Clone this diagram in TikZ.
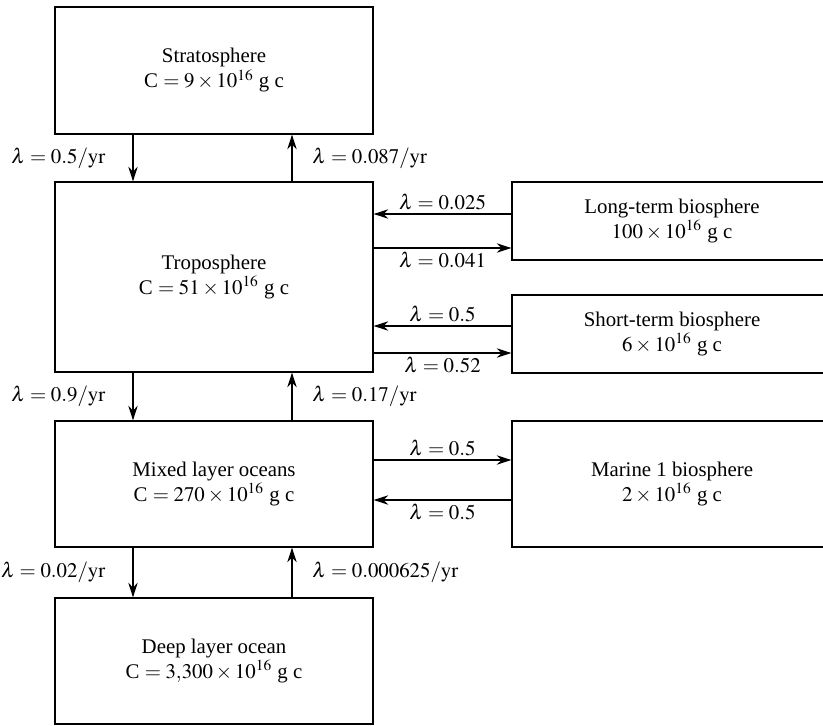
\documentclass[tikz,border=0pt]{standalone}
\usepackage{mathptmx}
\usepackage[no-math]{fontspec}
\setmainfont{Liberation Serif}
\usetikzlibrary{arrows.meta,positioning,calc}
\def\pxu{0.48pt}
\tikzset{%
   res/.style={
      draw,
      line width=.6pt,
      align=center,
      inner sep=0pt
   },
   fl/.style={
      -{Stealth[length=7pt,width=4.5pt]},
      line width=.6pt
   },
   rate/.style={
      inner sep=1.5pt
   },
}

\begin{document}
\begin{tikzpicture}[x=\pxu, y=-\pxu]
      \clip (0,0) rectangle (823,725);
      % reservoirs
      \node[res, minimum width=318*\pxu, minimum height=127*\pxu] (strat) at (214,70.5)
         {Stratosphere\\ C $=9\times10^{16}$ g c};
      \node[res, minimum width=318*\pxu, minimum height=190*\pxu] (tropo) at (214,277)
         {Troposphere\\ C $=51\times10^{16}$ g c};
      \node[res, minimum width=318*\pxu, minimum height=126*\pxu] (mixed) at (214,484)
         {Mixed layer oceans\\ C $=270\times10^{16}$ g c};
      \node[res, minimum width=318*\pxu, minimum height=126*\pxu] (deep) at (214,661)
         {Deep layer ocean\\ C $=3{,}300\times10^{16}$ g c};
      \node[res, minimum width=320*\pxu, minimum height=78*\pxu] (ltb) at (672,221)
         {Long-term biosphere\\ $100\times10^{16}$ g c};
      \node[res, minimum width=320*\pxu, minimum height=78*\pxu] (stb) at (672,334)
         {Short-term biosphere\\ $6\times10^{16}$ g c};
      \node[res, minimum width=320*\pxu, minimum height=126*\pxu] (mar) at (672,484)
         {Marine 1 biosphere\\ $2\times10^{16}$ g c};
      % vertical exchanges
      \draw[fl] (strat.south -| 133,0) -- (tropo.north -| 133,0)
         node[rate, midway, left=11.5pt] {$\lambda=0.5/\mathrm{yr}$};
      \draw[fl] (tropo.north -| 292,0) -- (strat.south -| 292,0)
         node[rate, midway, right=8pt] {$\lambda=0.087/\mathrm{yr}$};
      \draw[fl] (tropo.south -| 133,0) -- (mixed.north -| 133,0)
         node[rate, midway, left=11.5pt] {$\lambda=0.9/\mathrm{yr}$};
      \draw[fl] (mixed.north -| 292,0) -- (tropo.south -| 292,0)
         node[rate, midway, right=8pt] {$\lambda=0.17/\mathrm{yr}$};
      \draw[fl] (mixed.south -| 133,0) -- (deep.north -| 133,0)
         node[rate, midway, left=11.5pt] {$\lambda=0.02/\mathrm{yr}$};
      \draw[fl] (deep.north -| 292,0) -- (mixed.south -| 292,0)
         node[rate, midway, right=8pt] {$\lambda=0.000625/\mathrm{yr}$};
      % horizontal exchanges
      \draw[fl] (ltb.west |- 0,214) -- (tropo.east |- 0,214)
         node[rate, midway, above] {$\lambda=0.025$};
      \draw[fl] (tropo.east |- 0,248) -- (ltb.west |- 0,248)
         node[rate, midway, below] {$\lambda=0.041$};
      \draw[fl] (stb.west |- 0,326) -- (tropo.east |- 0,326)
         node[rate, midway, above] {$\lambda=0.5$};
      \draw[fl] (tropo.east |- 0,353) -- (stb.west |- 0,353)
         node[rate, midway, below] {$\lambda=0.52$};
      \draw[fl] (mixed.east |- 0,460) -- (mar.west |- 0,460)
         node[rate, midway, above] {$\lambda=0.5$};
      \draw[fl] (mar.west |- 0,500) -- (mixed.east |- 0,500)
         node[rate, midway, below] {$\lambda=0.5$};
   \end{tikzpicture}
\end{document}
